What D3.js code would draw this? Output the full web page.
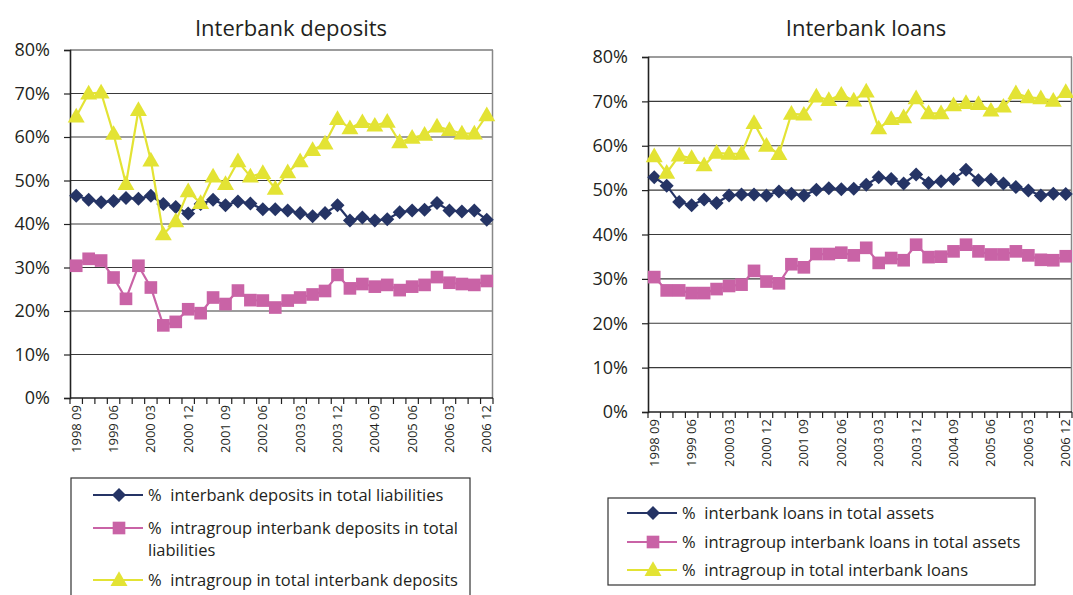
<!DOCTYPE html>
<html>
<head>
<meta charset="utf-8">
<script src="https://cdn.jsdelivr.net/npm/d3@7"></script>
<style>
  body { margin: 0; background: #fff; }
  svg { font-family: "Open Sans", "DejaVu Sans", sans-serif; }
  .legend text { white-space: pre; }
</style>
</head>
<body>
<svg id="chart" width="1073" height="595"></svg>
<script>
// quarters 1998 09 .. 2006 12
var quarters = [];
for (var yr = 1998; yr <= 2006; yr++) {
  ["03", "06", "09", "12"].forEach(function (m) {
    if (yr === 1998 && (m === "03" || m === "06")) return;
    quarters.push(yr + " " + m);
  });
}
var yTicks = [0, 10, 20, 30, 40, 50, 60, 70, 80];

// left panel: interbank deposits
var depTotal = [46.5, 45.6, 45.0, 45.3, 46.0, 45.8, 46.5, 44.6, 43.9, 42.4, 44.6, 45.6, 44.3, 45.2, 44.7, 43.4, 43.4, 43.1,
  42.5, 41.8, 42.5, 44.3, 40.8, 41.5, 40.8, 41.1, 42.7, 43.1, 43.3, 44.8, 43.1, 42.9, 43.1, 41.0];
var depIntra = [30.4, 32.0, 31.6, 27.7, 22.8, 30.4, 25.4, 16.7, 17.5, 20.4, 19.5, 23.1, 21.6, 24.7, 22.5, 22.4, 20.8, 22.4,
  23.1, 23.8, 24.6, 28.3, 25.2, 26.2, 25.6, 26.0, 24.8, 25.6, 26.0, 27.8, 26.5, 26.2, 26.0, 26.9];
var depShare = [64.7, 70.0, 70.2, 60.7, 49.2, 66.2, 54.6, 37.6, 40.6, 47.5, 44.8, 50.9, 49.2, 54.4, 50.9, 51.7, 48.1, 51.9,
  54.4, 57.0, 58.5, 64.1, 62.0, 63.4, 62.6, 63.5, 58.8, 59.8, 60.5, 62.4, 61.6, 60.8, 60.8, 65.0];

// right panel: interbank loans
var loanTotal = [52.9, 51.0, 47.3, 46.6, 47.9, 47.1, 48.8, 49.0, 49.0, 48.8, 49.7, 49.2, 48.8, 50.1, 50.4, 50.2, 50.3, 51.2,
  52.9, 52.5, 51.5, 53.5, 51.6, 52.0, 52.5, 54.6, 52.2, 52.4, 51.5, 50.7, 49.9, 48.8, 49.2, 49.1];
var loanIntra = [30.4, 27.4, 27.4, 26.8, 26.8, 27.7, 28.4, 28.7, 31.8, 29.4, 29.0, 33.3, 32.6, 35.6, 35.6, 35.9, 35.3, 37.0,
  33.6, 34.7, 34.2, 37.7, 34.9, 35.0, 36.2, 37.7, 36.2, 35.5, 35.5, 36.2, 35.3, 34.3, 34.2, 35.1];
var loanShare = [57.6, 53.9, 57.8, 57.2, 55.6, 58.4, 58.2, 58.2, 65.1, 60.0, 58.1, 67.2, 67.0, 71.1, 70.3, 71.5, 70.2, 72.2,
  63.9, 66.0, 66.4, 70.7, 67.3, 67.3, 69.1, 69.6, 69.4, 67.9, 68.8, 71.8, 70.9, 70.7, 70.1, 72.1];

var depNames = [["%  interbank deposits in total liabilities"],
  ["%  intragroup interbank deposits in total", "liabilities"],
  ["%  intragroup in total interbank deposits"]];
var loanNames = [["%  interbank loans in total assets"],
  ["%  intragroup interbank loans in total assets"],
  ["%  intragroup in total interbank loans"]];

var colors = ["#253465", "#c963a6", "#e3e334"];
var shapes = [d3.symbolDiamond2, d3.symbolSquare, d3.symbolTriangle];
var sizes = [125, 160, 125];

var svg = d3.select("#chart");

function drawPanel(opt) {
  var g = svg.append("g");
  var x = d3.scaleBand().domain(quarters).range([opt.x0, opt.x1]);
  var y = d3.scaleLinear().domain([0, 80]).range([opt.yb, opt.yt]);

  // gridlines
  g.selectAll("line.grid").data(yTicks.slice(1)).enter().append("line")
    .attr("x1", opt.x0).attr("x2", opt.x1)
    .attr("y1", function (d) { return y(d); }).attr("y2", function (d) { return y(d); })
    .attr("stroke", "#3a3a3a").attr("stroke-width", 1.2);
  // right frame
  g.append("line").attr("x1", opt.x1 - 0.5).attr("x2", opt.x1 - 0.5)
    .attr("y1", opt.yt).attr("y2", opt.yb)
    .attr("stroke", "#888").attr("stroke-width", 1.5);

  // y axis
  var ya = g.append("g").attr("transform", "translate(" + opt.x0 + ",0)")
    .call(d3.axisLeft(y).tickValues(yTicks).tickSize(6).tickPadding(14)
      .tickFormat(function (d) { return d + "%"; }));
  ya.select(".domain").attr("stroke", "#222").attr("stroke-width", 1.6);
  ya.selectAll(".tick line").attr("stroke", "#222").attr("stroke-width", 1.2);
  ya.selectAll("text").attr("font-size", 18).attr("fill", "#231f20")
    .attr("font-family", "Open Sans, sans-serif");

  // x axis: ticks at band edges
  g.append("line").attr("x1", opt.x0).attr("x2", opt.x1)
    .attr("y1", opt.yb).attr("y2", opt.yb)
    .attr("stroke", "#222").attr("stroke-width", 1.6);
  var edges = quarters.map(function (q) { return x(q); }).concat([opt.x1]);
  g.selectAll("line.xt").data(edges).enter().append("line")
    .attr("x1", function (d) { return d; }).attr("x2", function (d) { return d; })
    .attr("y1", opt.yb).attr("y2", opt.yb + 6)
    .attr("stroke", "#222").attr("stroke-width", 1.2);
  g.selectAll("text.xl").data(quarters.filter(function (q, i) { return i % 3 === 0; }))
    .enter().append("text")
    .attr("transform", function (d) {
      return "translate(" + (x(d) + x.bandwidth() / 2 + 4.5) + "," + (opt.yb + 7) + ")rotate(-90)";
    })
    .attr("text-anchor", "end")
    .attr("font-size", 13).attr("fill", "#231f20")
    .text(function (d) { return d; });

  // series
  opt.series.forEach(function (vals, k) {
    var line = d3.line()
      .x(function (d, i) { return x(quarters[i]) + x.bandwidth() / 2; })
      .y(function (d) { return y(d); });
    g.append("path").datum(vals).attr("d", line)
      .attr("fill", "none").attr("stroke", colors[k]).attr("stroke-width", 2.2);
    g.selectAll("path.m" + k).data(vals).enter().append("path")
      .attr("d", d3.symbol().type(shapes[k]).size(sizes[k]))
      .attr("transform", function (d, i) {
        return "translate(" + (x(quarters[i]) + x.bandwidth() / 2) + "," + (y(d) + (k === 2 ? 1 : 0)) + ")";
      })
      .attr("fill", colors[k]);
  });

  // title
  g.append("text").attr("x", opt.tx).attr("y", 36)
    .attr("text-anchor", "middle").attr("font-size", 22).attr("fill", "#231f20")
    .text(opt.title);

  // legend
  var lg = g.append("g").attr("class", "legend");
  lg.append("rect").attr("x", opt.lx).attr("y", opt.ly)
    .attr("width", opt.lw).attr("height", opt.lh)
    .attr("fill", "none").attr("stroke", "#333").attr("stroke-width", 1.2);
  opt.names.forEach(function (lines, k) {
    var cy = opt.rows[k];
    lg.append("line").attr("x1", opt.sx).attr("x2", opt.sx + 50)
      .attr("y1", cy).attr("y2", cy).attr("stroke", colors[k]).attr("stroke-width", 2.2);
    lg.append("path").attr("d", d3.symbol().type(shapes[k]).size(sizes[k]))
      .attr("transform", "translate(" + (opt.sx + 26) + "," + (cy + (k === 2 ? 1 : 0)) + ")")
      .attr("fill", colors[k]);
    lines.forEach(function (t, j) {
      lg.append("text").attr("x", opt.sx + 55).attr("y", cy + 6 + j * 22)
        .attr("font-size", 16.5).attr("fill", "#231f20").text(t);
    });
  });
}

drawPanel({
  x0: 70, x1: 493, yt: 50, yb: 398, tx: 291, title: "Interbank deposits",
  series: [depTotal, depIntra, depShare], names: depNames,
  lx: 71, ly: 478, lw: 399, lh: 130, sx: 93, rows: [495, 528, 580]
});
drawPanel({
  x0: 648, x1: 1072, yt: 57, yb: 412, tx: 866, title: "Interbank loans",
  series: [loanTotal, loanIntra, loanShare], names: loanNames,
  lx: 608, ly: 498, lw: 427, lh: 87, sx: 627, rows: [513, 542, 570]
});
</script>
</body>
</html>
